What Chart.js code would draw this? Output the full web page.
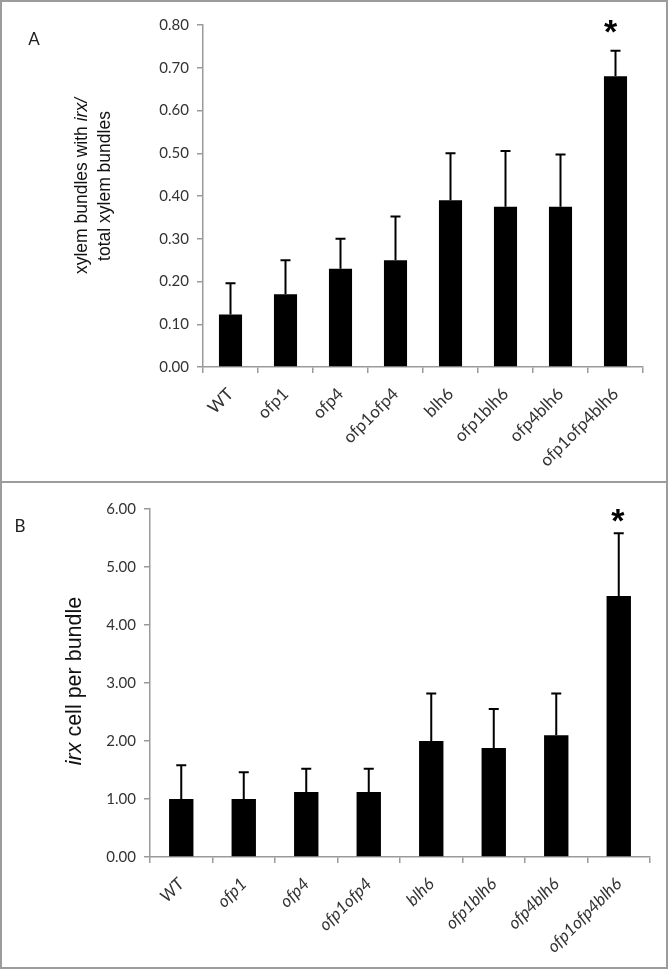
<!DOCTYPE html>
<html>
<head>
<meta charset="utf-8">
<script src="https://cdn.jsdelivr.net/npm/chart.js@4.4.1/dist/chart.umd.min.js"></script>
<style>
  body { margin: 0; background: #fff; }
  .panel { position: absolute; left: 0; box-sizing: border-box; border: 2px solid #9c9c9c; background: #fff; }
  #panelA { top: 0; width: 668px; height: 483px; }
  #panelB { top: 481px; width: 668px; height: 488px; }
  canvas { display: block; }
</style>
</head>
<body>
<div class="panel" id="panelA"><canvas id="chartA" width="664" height="479"></canvas></div>
<div class="panel" id="panelB"><canvas id="chartB" width="664" height="484"></canvas></div>
<script>
// Genotypes on the x axis
const genotypes = ["WT", "ofp1", "ofp4", "ofp1ofp4", "blh6", "ofp1blh6", "ofp4blh6", "ofp1ofp4blh6"];

// Panel A: xylem bundles with irx / total xylem bundles
const bundleRatio = [0.123, 0.17, 0.23, 0.25, 0.39, 0.375, 0.375, 0.68];
const bundleRatioErr = [0.073, 0.08, 0.07, 0.102, 0.11, 0.13, 0.122, 0.06];

// Panel B: irx cell per bundle
const cellsPerBundle = [1.0, 1.0, 1.12, 1.12, 2.0, 1.88, 2.1, 4.5];
const cellsPerBundleErr = [0.58, 0.46, 0.4, 0.4, 0.82, 0.67, 0.72, 1.08];

// Significance marks (*)
const significant = [false, false, false, false, false, false, false, true];

// Error bars, star, y title and panel letter
const extrasPlugin = {
  id: "extras",
  afterDatasetsDraw(chart, args, opts) {
    const ctx = chart.ctx;
    const y = chart.scales.y;
    const meta = chart.getDatasetMeta(0);
    const ds = chart.data.datasets[0];
    ctx.save();
    ctx.strokeStyle = "#000";
    ctx.lineWidth = 2;
    meta.data.forEach(function (bar, i) {
      const top = y.getPixelForValue(ds.data[i] + opts.errors[i]);
      const base = y.getPixelForValue(ds.data[i]);
      ctx.beginPath();
      ctx.moveTo(bar.x, base);
      ctx.lineTo(bar.x, top);
      ctx.moveTo(bar.x - 5, top);
      ctx.lineTo(bar.x + 5, top);
      ctx.stroke();
      if (significant[i]) {
        ctx.fillStyle = "#000";
        ctx.font = "bold 34px 'Liberation Sans'";
        ctx.textAlign = "center";
        ctx.textBaseline = "middle";
        ctx.fillText("*", bar.x + opts.starDx, top - opts.starGap);
      }
    });
    ctx.restore();
  },
  afterDraw(chart, args, opts) {
    const ctx = chart.ctx;
    ctx.save();
    // panel letter
    ctx.fillStyle = "#222";
    ctx.font = "17px Lato";
    ctx.textAlign = "center";
    ctx.textBaseline = "middle";
    ctx.fillText(opts.letter, opts.letterX, opts.letterY);
    // rotated y title with italic parts
    ctx.fillStyle = "#111";
    ctx.textBaseline = "alphabetic";
    opts.title.forEach(function (line, li) {
      let total = 0;
      line.forEach(function (seg) {
        ctx.font = (seg[1] ? "italic " : "") + opts.titleSize + "px 'Liberation Sans'";
        total += ctx.measureText(seg[0]).width;
      });
      ctx.save();
      ctx.translate(opts.titleX + li * opts.titleLine, opts.titleY);
      ctx.rotate(-Math.PI / 2);
      ctx.textAlign = "left";
      let pos = -total / 2;
      line.forEach(function (seg) {
        ctx.font = (seg[1] ? "italic " : "") + opts.titleSize + "px 'Liberation Sans'";
        ctx.fillText(seg[0], pos, 0);
        pos += ctx.measureText(seg[0]).width;
      });
      ctx.restore();
    });
    ctx.restore();
  },
};

function makeChart(canvasId, values, errors, maxY, step, italicX, pad, extras) {
  const ctx = document.getElementById(canvasId).getContext("2d");
  return new Chart(ctx, {
    type: "bar",
    data: {
      labels: genotypes,
      datasets: [
        {
          data: values,
          backgroundColor: "#000",
          borderWidth: 0,
          categoryPercentage: 1,
          barPercentage: pad.barPct,
        },
      ],
    },
    plugins: [extrasPlugin],
    options: {
      responsive: false,
      animation: false,
      devicePixelRatio: 1,
      layout: { padding: { left: pad.left, right: pad.right, top: pad.top, bottom: pad.bottom } },
      plugins: {
        legend: { display: false },
        tooltip: { enabled: false },
        extras: extras,
      },
      scales: {
        x: {
          afterFit: function (s) { s.height = 100; },
          border: { color: "#9a9a9a", width: 1.5 },
          grid: { drawOnChartArea: false, tickLength: 6, color: "#9a9a9a", lineWidth: 1.5 },
          ticks: {
            autoSkip: false,
            minRotation: 45,
            maxRotation: 45,
            padding: 11,
            color: "#333",
            font: { family: "Lato", size: 17, style: italicX ? "italic" : "normal" },
          },
        },
        y: {
          min: 0,
          max: maxY,
          afterFit: function (s) { s.width = 60; },
          border: { color: "#9a9a9a", width: 1.5 },
          grid: { drawOnChartArea: false, tickLength: 6, color: "#9a9a9a", lineWidth: 1.5 },
          ticks: {
            stepSize: step,
            padding: 8,
            color: "#333",
            font: { family: "Lato", size: 15 },
            callback: function (v) { return Number(v).toFixed(2); },
          },
        },
      },
    },
  });
}

makeChart("chartA", bundleRatio, bundleRatioErr, 0.8, 0.1, false,
  { left: 141, right: 23, top: 23, bottom: 14, barPct: 0.42 },
  {
    errors: bundleRatioErr, starGap: 17, starDx: -5,
    letter: "A", letterX: 32, letterY: 38,
    title: [[["xylem bundles with ", false], ["irx/", true]], [["total xylem bundles", false]]],
    titleX: 85, titleY: 184, titleLine: 23, titleSize: 17.5,
  });

makeChart("chartB", cellsPerBundle, cellsPerBundleErr, 6, 1, true,
  { left: 88, right: 16, top: 26, bottom: 10, barPct: 0.39 },
  {
    errors: cellsPerBundleErr, starGap: 11, starDx: -1,
    letter: "B", letterX: 18, letterY: 44,
    title: [[["irx", true], [" cell per bundle", false]]],
    titleX: 79, titleY: 198, titleLine: 0, titleSize: 21.5,
  });
</script>
</body>
</html>
